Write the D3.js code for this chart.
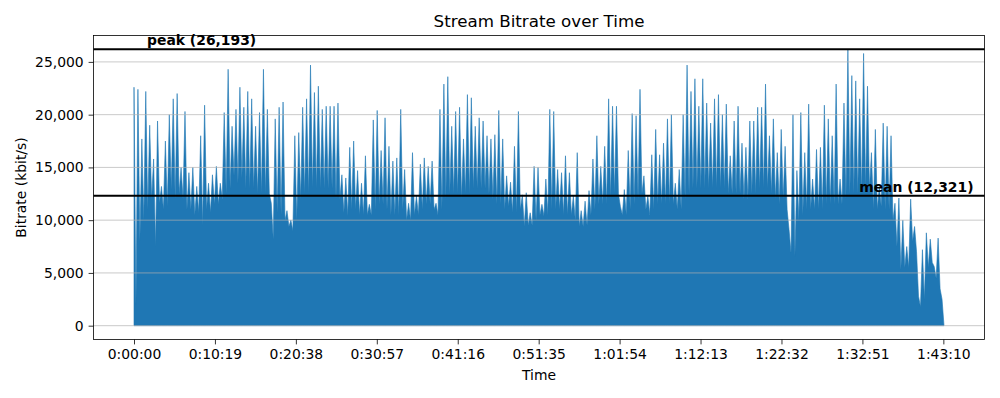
<!DOCTYPE html>
<html>
<head>
<meta charset="utf-8">
<script src="https://cdn.jsdelivr.net/npm/d3@7"></script>
<style>
  body { margin: 0; background: #fff; }
  text { font-family: "DejaVu Sans", sans-serif; }
</style>
</head>
<body>
<div id="chart-area"></div>
<script>
// bitrate, one bin every 30 s:
// highest spike in the bin, then the level the fill drops back to
var binSeconds = 30;
var peakKbps = [
  22600, 22400, 17700, 22200, 19000, 15800, 19400, 13200, 17500, 20000,
  21500, 22000, 15000, 20300, 14500, 15000, 13200, 18000, 20900, 13500,
  14300, 15100, 13500, 20200, 24300, 18900, 20500, 22600, 20700, 22200,
  21500, 18900, 20200, 24300, 20500, 11600, 19600, 20700, 21200, 10900,
  10000, 18000, 18300, 20700, 21500, 24700, 22100, 22700, 20500, 20800,
  20800, 20800, 21100, 14300, 14000, 16900, 17500, 14700, 13500, 16100,
  11500, 19500, 20400, 16600, 19700, 17000, 15600, 15900, 20500, 14800,
  11600, 16400, 12300, 15300, 15900, 15100, 15600, 11600, 20500, 22900,
  23600, 18900, 20300, 20700, 17700, 21900, 21600, 18900, 19700, 19400,
  18000, 17700, 18100, 20400, 17700, 14200, 13600, 17000, 20300, 12400,
  12600, 10700, 15100, 15000, 11500, 13900, 20500, 20300, 14800, 14500,
  16100, 14500, 12300, 16400, 10900, 11800, 12800, 15800, 18000, 15100,
  17000, 21500, 20800, 20800, 11300, 12900, 16600, 20100, 19900, 22400,
  14200, 12300, 16200, 18600, 16200, 17300, 19600, 20000, 13500, 14800,
  20000, 24700, 22200, 23400, 20800, 23400, 21100, 19200, 21500, 21900,
  20000, 21000, 16100, 19400, 20800, 17300, 16900, 19400, 19400, 20700,
  20700, 22900, 18000, 19600, 16400, 18600, 17000, 9100, 20000, 14700,
  20200, 16400, 21000, 13900, 16700, 16900, 20900, 19600, 18000, 22900,
  13900, 21100, 26193, 23700, 23200, 21500, 25800, 22700, 16400, 18600,
  13200, 19200, 18900, 18000, 11600, 12100, 10000, 7500, 12000, 9400,
  2800, 7200, 8800, 8200, 5600, 8300, 2500
];
var floorKbps = [
  2000, 8000, 10000, 11000, 12000, 7500, 11600, 11000, 11300, 12900,
  12000, 12500, 12000, 11000, 11000, 10500, 10700, 9500, 11000, 10700,
  11500, 11500, 12000, 12500, 13000, 14200, 13500, 14000, 13000, 13000,
  13000, 12500, 12500, 12500, 12500, 8200, 10700, 10500, 10000, 9400,
  9000, 10000, 12000, 12500, 12500, 13000, 13000, 13000, 13000, 13000,
  13000, 12000, 12000, 10700, 10400, 11000, 11000, 10500, 10500, 10500,
  10500, 11000, 11500, 11500, 11000, 10500, 10500, 10500, 11000, 10000,
  10000, 10500, 10500, 11000, 11500, 11500, 11000, 10500, 11000, 12000,
  12500, 12500, 12500, 12000, 12500, 12500, 13000, 13000, 13000, 13000,
  12500, 12000, 11500, 11500, 11000, 11300, 10700, 10700, 11000, 9400,
  9500, 9500, 10000, 10500, 10400, 10500, 11000, 11000, 11000, 10500,
  10500, 10500, 10000, 9400, 9400, 9500, 10500, 11000, 11500, 11500,
  11500, 12000, 12500, 12500, 10500, 10500, 11000, 11500, 12000, 12500,
  11000, 10500, 11000, 11500, 11500, 11500, 11500, 11500, 11000, 11000,
  12000, 12500, 13000, 13000, 13000, 13000, 13000, 13000, 13000, 13000,
  13000, 12500, 12500, 12500, 12500, 12000, 12000, 12500, 12500, 13000,
  13000, 13000, 12500, 12000, 11500, 12000, 11000, 6900, 6600, 10000,
  10500, 11000, 11000, 11000, 11000, 11000, 11500, 11500, 11500, 11500,
  11500, 12000, 12500, 12500, 12500, 12500, 13000, 13000, 11000, 11000,
  11300, 11000, 11000, 10000, 7500, 5300, 5500, 5500, 8000, 7000,
  1800, 2500, 5500, 6000, 4500, 3500, 0
];
var peakValue = 26193;
var meanValue = 12321;
var timeTicks = ["0:00:00", "0:10:19", "0:20:38", "0:30:57", "0:41:16", "0:51:35",
                 "1:01:54", "1:12:13", "1:22:32", "1:32:51", "1:43:10"];
var rateTicks = [0, 5000, 10000, 15000, 20000, 25000];

var W = 1000, H = 398;
var margin = { left: 93.5, right: 15.5, top: 35.5, bottom: 58.5 };
var width = W - margin.left - margin.right,
    height = H - margin.top - margin.bottom;

function toSeconds(s) {
  var p = s.split(":").map(Number);
  return p[0] * 3600 + p[1] * 60 + p[2];
}

// one peak and one trough per bin
var series = [];
peakKbps.forEach(function(v, i) {
  series.push({ t: i * binSeconds, v: v });
  series.push({ t: i * binSeconds + binSeconds / 2, v: floorKbps[i] });
});

var svg = d3.select("#chart-area").append("svg")
    .attr("width", W)
    .attr("height", H);

var g = svg.append("g")
    .attr("transform", "translate(" + margin.left + "," + margin.top + ")");

// matplotlib-style 5% padding
var tExt = d3.extent(series, function(d) { return d.t; });
var tPad = (tExt[1] - tExt[0]) * 0.05;
var x = d3.scaleLinear()
    .domain([tExt[0] - tPad, tExt[1] + tPad])
    .range([0, width]);

var vPad = peakValue * 0.05;
var y = d3.scaleLinear()
    .domain([-vPad, peakValue + vPad])
    .range([height, 0]);

var area = d3.area()
    .x(function(d) { return x(d.t); })
    .y0(y(0))
    .y1(function(d) { return y(d.v); });

g.append("path")
    .datum(series)
    .attr("fill", "#1f77b4")
    .attr("stroke", "#1f77b4")
    .attr("stroke-width", 0.6)
    .attr("d", area);

// grid
g.selectAll(".grid")
    .data(rateTicks)
    .enter().append("line")
    .attr("class", "grid")
    .attr("x1", 0).attr("x2", width)
    .attr("y1", function(d) { return y(d); })
    .attr("y2", function(d) { return y(d); })
    .attr("stroke", "#b0b0b0")
    .attr("stroke-opacity", 0.85)
    .attr("stroke-width", 0.8);

// peak and mean
g.selectAll(".hline")
    .data([peakValue, meanValue])
    .enter().append("line")
    .attr("x1", 0).attr("x2", width)
    .attr("y1", function(d) { return y(d); })
    .attr("y2", function(d) { return y(d); })
    .attr("stroke", "#000")
    .attr("stroke-width", 2);

var fmt = d3.format(",");

g.append("text")
    .attr("x", x(100))
    .attr("y", y(peakValue) - 4)
    .attr("font-size", "13.9px")
    .attr("font-weight", "bold")
    .text("peak (" + fmt(peakValue) + ")");

g.append("text")
    .attr("x", width - 11)
    .attr("y", y(meanValue) - 4)
    .attr("font-size", "13.9px")
    .attr("font-weight", "bold")
    .attr("text-anchor", "end")
    .text("mean (" + fmt(meanValue) + ")");

// axes
var xAxisCall = d3.axisBottom(x)
    .tickValues(timeTicks.map(toSeconds))
    .tickFormat(function(d, i) { return timeTicks[i]; })
    .tickSize(4.9)
    .tickPadding(4.9)
    .tickSizeOuter(0);

var yAxisCall = d3.axisLeft(y)
    .tickValues(rateTicks)
    .tickFormat(fmt)
    .tickSize(4.9)
    .tickPadding(4.9)
    .tickSizeOuter(0);

var xAxisGroup = g.append("g")
    .attr("transform", "translate(0," + height + ")")
    .call(xAxisCall);

var yAxisGroup = g.append("g")
    .call(yAxisCall);

[xAxisGroup, yAxisGroup].forEach(function(ax) {
  ax.select(".domain").remove();
  ax.selectAll("text")
      .attr("font-family", "DejaVu Sans")
      .attr("font-size", "13.9px")
      .attr("fill", "#000");
  ax.selectAll("line").attr("stroke", "#000").attr("stroke-width", 0.8);
});

// frame
g.append("rect")
    .attr("width", width)
    .attr("height", height)
    .attr("fill", "none")
    .attr("stroke", "#000")
    .attr("stroke-width", 0.8);

// labels
svg.append("text")
    .attr("x", margin.left + width / 2)
    .attr("y", 27)
    .attr("font-size", "16.7px")
    .attr("text-anchor", "middle")
    .text("Stream Bitrate over Time");

svg.append("text")
    .attr("x", margin.left + width / 2)
    .attr("y", 380)
    .attr("font-size", "13.9px")
    .attr("text-anchor", "middle")
    .text("Time");

svg.append("text")
    .attr("transform", "translate(26," + (margin.top + height / 2) + ") rotate(-90)")
    .attr("font-size", "13.9px")
    .attr("text-anchor", "middle")
    .text("Bitrate (kbit/s)");
</script>
</body>
</html>
